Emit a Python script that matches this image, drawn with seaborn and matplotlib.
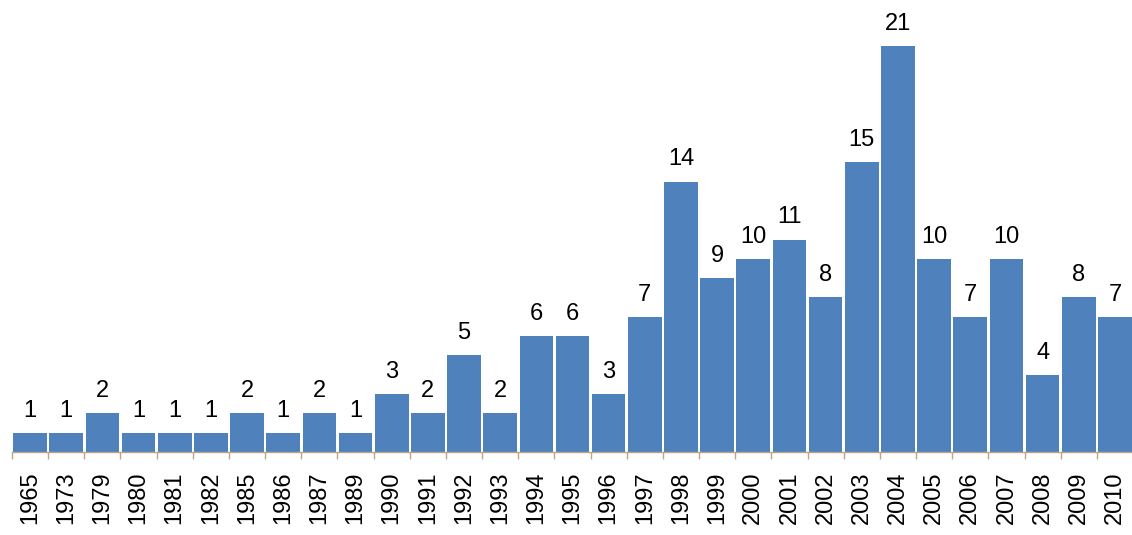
import pandas as pd
import seaborn as sns
import matplotlib.pyplot as plt
import numpy as np

sns.set_theme(style="white")
plt.rcParams['font.family'] = ['Liberation Sans', 'DejaVu Sans']

years = ['1965', '1973', '1979', '1980', '1981', '1982', '1985', '1986', '1987', '1989',
         '1990', '1991', '1992', '1993', '1994', '1995', '1996', '1997', '1998', '1999',
         '2000', '2001', '2002', '2003', '2004', '2005', '2006', '2007', '2008', '2009', '2010']
counts = [1, 1, 2, 1, 1, 1, 2, 1, 2, 1,
          3, 2, 5, 2, 6, 6, 3, 7, 14, 9,
          10, 11, 8, 15, 21, 10, 7, 10, 4, 8, 7]

df = pd.DataFrame({'Year': years, 'Count': counts})

fig = plt.figure(figsize=(11.32, 5.35), dpi=100)
ax = fig.add_axes([12 / 1132, 1 - 452 / 535, 1121 / 1132, 452 / 535])

sns.barplot(x='Year', y='Count', data=df, order=years, color='#4F81BD',
            saturation=1, width=0.93, edgecolor='none', ax=ax)

ax.bar_label(ax.containers[0], labels=[str(v) for v in counts], padding=8,
             fontsize=17, color='black')

ax.set_xlim(-0.5, len(years) - 0.5)
ax.set_ylim(0, 23.4)
ax.set_xlabel('')
ax.set_ylabel('')
ax.set_yticks([])

for s in ['top', 'right', 'left']:
    ax.spines[s].set_visible(False)
ax.spines['bottom'].set_color('#b8a58a')
ax.spines['bottom'].set_linewidth(1.0)

# tick marks sit on the category boundaries
ax.set_xticks(np.arange(len(years)))
ax.set_xticklabels(years, rotation=90, fontsize=17, color='black')
ax.tick_params(axis='x', which='major', length=0, pad=14)
ax.set_xticks(np.arange(-0.5, len(years)), minor=True)
ax.tick_params(axis='x', which='minor', length=5, color='#b8a58a', width=1,
               direction='out', bottom=True)

fig.savefig('out.png', dpi=100)
